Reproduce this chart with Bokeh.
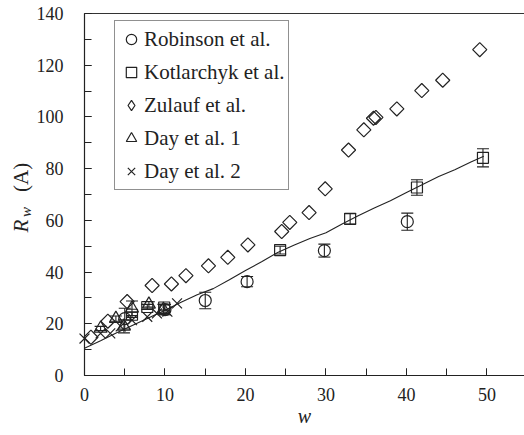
import math
from bokeh.plotting import figure
from bokeh.models import (ColumnDataSource, Whisker, TeeHead, Legend, LegendItem,
                          SingleIntervalTicker, FixedTicker, Label, LinearAxis, Range1d)
from bokeh.embed import file_html
from bokeh.resources import INLINE

# ---- data ----
robinson_w = [5.0, 10.0, 15.0, 20.2, 29.8, 40.1]
robinson_r = [22.0, 25.5, 29.0, 36.3, 48.3, 59.5]
robinson_err = [4.0, 2.0, 3.2, 2.0, 2.5, 3.3]

kotlarchyk_w = [5.9, 7.8, 9.9, 24.3, 33.0, 41.3, 49.5]
kotlarchyk_r = [23.5, 26.5, 26.3, 48.5, 60.6, 72.7, 84.2]
kotlarchyk_err = [1.0, 1.0, 1.0, 1.5, 2.0, 3.0, 3.5]

zulauf_w = [0.8, 2.9, 5.3, 8.4, 10.8, 12.6, 15.4, 17.8, 20.3, 24.5, 25.5,
            27.9, 29.9, 32.8, 34.7, 35.9, 36.2, 38.8, 41.9, 44.5, 49.1]
zulauf_r = [14.8, 21.0, 28.6, 34.8, 35.4, 38.6, 42.4, 45.7, 50.5, 55.7, 59.2,
            63.0, 72.2, 87.2, 95.0, 99.5, 99.8, 103.1, 110.2, 114.2, 126.0]

day1_w = [2.0, 3.9, 4.9, 5.9, 8.0, 9.8]
day1_r = [18.2, 22.0, 19.0, 26.0, 27.5, 25.5]
day1_err = [0.8, 1.0, 2.5, 2.8, 1.0, 2.0]

day2_w = [0.0, 2.0, 3.2, 4.5, 5.9, 7.8, 9.0, 10.3, 11.5]
day2_r = [14.3, 16.3, 16.3, 19.0, 21.4, 22.7, 24.0, 24.7, 27.9]

fit_w = [0, 2, 4, 6, 8, 10, 12, 14, 16, 18, 20, 22, 24, 26, 28, 30, 32, 34,
         36, 38, 40, 42, 44, 46, 48, 49.6]
fit_r = [10.5, 13.4, 16.5, 19.4, 22.3, 25.2, 28.3, 31.2, 33.6, 37.0, 40.6,
         44.0, 47.6, 50.4, 53.0, 55.2, 58.6, 61.8, 64.8, 67.6, 70.8, 73.9,
         77.0, 79.6, 82.6, 84.8]

x_ticks_interval = 10
y_ticks_interval = 20
x_min, x_max = 0, 54.66
y_min, y_max = 0, 140

SERIF = "Liberation Serif"
INK = "#222222"

# the frame covers the whole canvas; axes are pinned at w = 0 and R = 0
PX_X = 8.05    # pixels per unit of w
PX_Y = 2.586   # pixels per unit of R
p = figure(width=524, height=435, output_backend="svg", toolbar_location=None,
           x_range=Range1d(x_min - 84 / PX_X, x_max),
           y_range=Range1d(y_min - 60 / PX_Y, y_max + 13 / PX_Y),
           min_border_left=0, min_border_right=0, min_border_top=0,
           min_border_bottom=0)
p.background_fill_color = "white"
p.border_fill_color = "white"
p.outline_line_color = None
p.xgrid.visible = False
p.ygrid.visible = False

p.xaxis.fixed_location = 0
p.yaxis.fixed_location = 0
p.xaxis.bounds = (x_min, x_max)
p.yaxis.bounds = (y_min, y_max)

for ax, interval in ((p.xaxis[0], x_ticks_interval), (p.yaxis[0], y_ticks_interval)):
    ax.ticker = SingleIntervalTicker(interval=interval, num_minor_ticks=2)
    ax.axis_line_color = INK
    ax.axis_line_width = 1.2
    ax.major_tick_in = 7
    ax.major_tick_out = 0
    ax.minor_tick_in = 7
    ax.minor_tick_out = 0
    ax.major_tick_line_color = INK
    ax.minor_tick_line_color = INK
    ax.major_label_text_font = SERIF
    ax.major_label_text_font_size = "18px"
    ax.major_label_text_color = INK

p.yaxis.major_label_standoff = 21
p.xaxis.major_label_standoff = 12

# top border of the plot box
top = LinearAxis(fixed_location=y_max, bounds=(x_min, x_max),
                 ticker=FixedTicker(ticks=[]), major_label_text_font_size="0px",
                 axis_line_color="#333333", axis_line_width=1.2,
                 major_tick_in=0, major_tick_out=0, minor_tick_in=0, minor_tick_out=0)
p.add_layout(top, "above")

# axis titles (x: italic w; y: R_w (A))
p.add_layout(Label(x=27.33, y=-15.8, text="w", text_font=SERIF, text_font_size="20px",
                   text_font_style="italic", text_color=INK, text_align="center",
                   text_baseline="middle"))
common = dict(angle=math.pi / 2, text_font=SERIF, text_color=INK,
              text_baseline="middle", text_align="left")
p.add_layout(Label(x=-7.83, y=55.3, text="R", text_font_size="21px",
                   text_font_style="italic", **common))
p.add_layout(Label(x=-7.30, y=61.3, text="w", text_font_size="15px",
                   text_font_style="italic", **common))
p.add_layout(Label(x=-7.83, y=71.0, text="(A)", text_font_size="21px", **common))

# fitted line
p.line(fit_w, fit_r, line_color=INK, line_width=1.1)

# error bars
def add_err(xs, ys, es):
    src = ColumnDataSource(dict(x=xs, lo=[y - e for y, e in zip(ys, es)],
                                hi=[y + e for y, e in zip(ys, es)]))
    w = Whisker(source=src, base="x", lower="lo", upper="hi",
                line_color=INK, line_width=1.1,
                upper_head=TeeHead(size=12, line_color=INK, line_width=1.1),
                lower_head=TeeHead(size=12, line_color=INK, line_width=1.1))
    p.add_layout(w)

add_err(robinson_w, robinson_r, robinson_err)
add_err(kotlarchyk_w, kotlarchyk_r, kotlarchyk_err)
add_err(day1_w, day1_r, day1_err)

mk = dict(fill_color=None, line_color=INK, line_width=1.2)
r_rob = p.scatter(robinson_w, robinson_r, marker="circle", size=12, **mk)
r_kot = p.scatter(kotlarchyk_w, kotlarchyk_r, marker="square", size=11, **mk)
r_zul = p.scatter(zulauf_w, zulauf_r, marker="square", size=10, angle=math.pi / 4, **mk)
# legend key for the diamonds (no visible point)
r_zul_key = p.scatter([float("nan")], [float("nan")], marker="diamond", size=15, **mk)
r_d1 = p.scatter(day1_w, day1_r, marker="triangle", size=13, **mk)
r_d2 = p.scatter(day2_w, day2_r, marker="x", size=14, **mk)

legend = Legend(items=[
    LegendItem(label="Robinson et al.", renderers=[r_rob]),
    LegendItem(label="Kotlarchyk et al.", renderers=[r_kot]),
    LegendItem(label="Zulauf et al.", renderers=[r_zul_key]),
    LegendItem(label="Day et al. 1", renderers=[r_d1]),
    LegendItem(label="Day et al. 2", renderers=[r_d2]),
], location=(114, 245))
legend.label_text_font = SERIF
legend.label_text_font_size = "21px"
legend.label_text_color = INK
legend.border_line_color = INK
legend.border_line_width = 1.2
legend.background_fill_alpha = 1.0
legend.glyph_width = 26
legend.glyph_height = 30
legend.label_height = 30
legend.spacing = 3
legend.padding = 3
legend.margin = 0
legend.label_standoff = 0
p.add_layout(legend, "center")

open("out.html", "w").write(file_html(p, INLINE))
